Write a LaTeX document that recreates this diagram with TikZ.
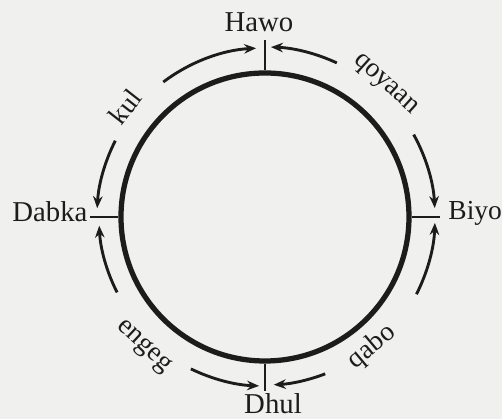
\documentclass[tikz,border=0pt]{standalone}
\usepackage{fontspec}
\setmainfont{Liberation Serif}
\usetikzlibrary{arrows.meta}
\definecolor{inkc}{RGB}{28,28,28}
\definecolor{paper}{RGB}{240,240,238}

\begin{document}
\begin{tikzpicture}[
  x=0.4pt, y=0.4pt,
  ring/.style={circle, draw=inkc, line width=2.1pt, minimum size=115.2pt, inner sep=0pt},
  tickln/.style={draw=inkc, line width=0.9pt},
  arr/.style={-{Stealth[length=4.8pt, width=3.8pt]}, line width=1.15pt, inkc},
  place/.style={text=inkc, font=\fontsize{11.5}{13}\selectfont, inner sep=0pt},
  dirn/.style={text=inkc, font=\fontsize{11}{13}\selectfont, inner sep=0pt},
]

% ============ frame ============
\fill[paper] (-265,-202) rectangle (237,217);
\useasboundingbox (-265,-202) rectangle (237,217);

% ============ ring and ticks ============
\node[ring] (ring) at (0,0) {};
\draw[tickln] (ring.north) -- ++(0,30) coordinate (hawoT);
\draw[tickln] (ring.west)  -- ++(-28,0) coordinate (dabkaT);
\draw[tickln] (ring.east)  -- ++(28,0) coordinate (biyoT);
\draw[tickln] (ring.south) -- ++(0,-27) coordinate (dhulT);

% ============ places ============
\node[place, anchor=base]      (hawo)  at (-6,185)  {Hawo};
\node[place, anchor=base east] (dabka) at (-177,-5) {Dabka};
\node[place, anchor=base west, font=\fontsize{11}{13}\selectfont] (biyo) at (183,-3) {Biyo};
\node[place, anchor=base]      (dhul)  at (8,-197)  {Dhul};

% ============ directions ============
\node[dirn, rotate=52]  (kul)    at (-140,110) {kul};
\node[dirn, rotate=-42] (qoyaan) at (120,132)  {qoyaan};
\node[dirn, rotate=40]  (qabo)   at (107,-130) {qabo};
\node[dirn, rotate=-43] (engeg)  at (-122,-130) {engeg};

% ============ arrows along the ring ============
\coordinate (kulA) at (127:169);
\coordinate (kulB) at (153:168);
\draw[arr] (kulA) arc[start angle=127, end angle=93, radius=169];
\draw[arr] (kulB) arc[start angle=153, end angle=177, radius=168];

\coordinate (qoyA) at (65:170);
\coordinate (qoyB) at (29:170);
\draw[arr] (qoyA) arc[start angle=65, end angle=88, radius=170];
\draw[arr] (qoyB) arc[start angle=29, end angle=3, radius=170];

\coordinate (qabA) at (-27:170);
\coordinate (qabB) at (-69:168);
\draw[arr] (qabA) arc[start angle=-27, end angle=-2, radius=170];
\draw[arr] (qabB) arc[start angle=-69, end angle=-87, radius=168];

\coordinate (engA) at (-116:169);
\coordinate (engB) at (-153:166);
\draw[arr] (engA) arc[start angle=-116, end angle=-92, radius=169];
\draw[arr] (engB) arc[start angle=-153, end angle=-177, radius=166];
\end{tikzpicture}
\end{document}
